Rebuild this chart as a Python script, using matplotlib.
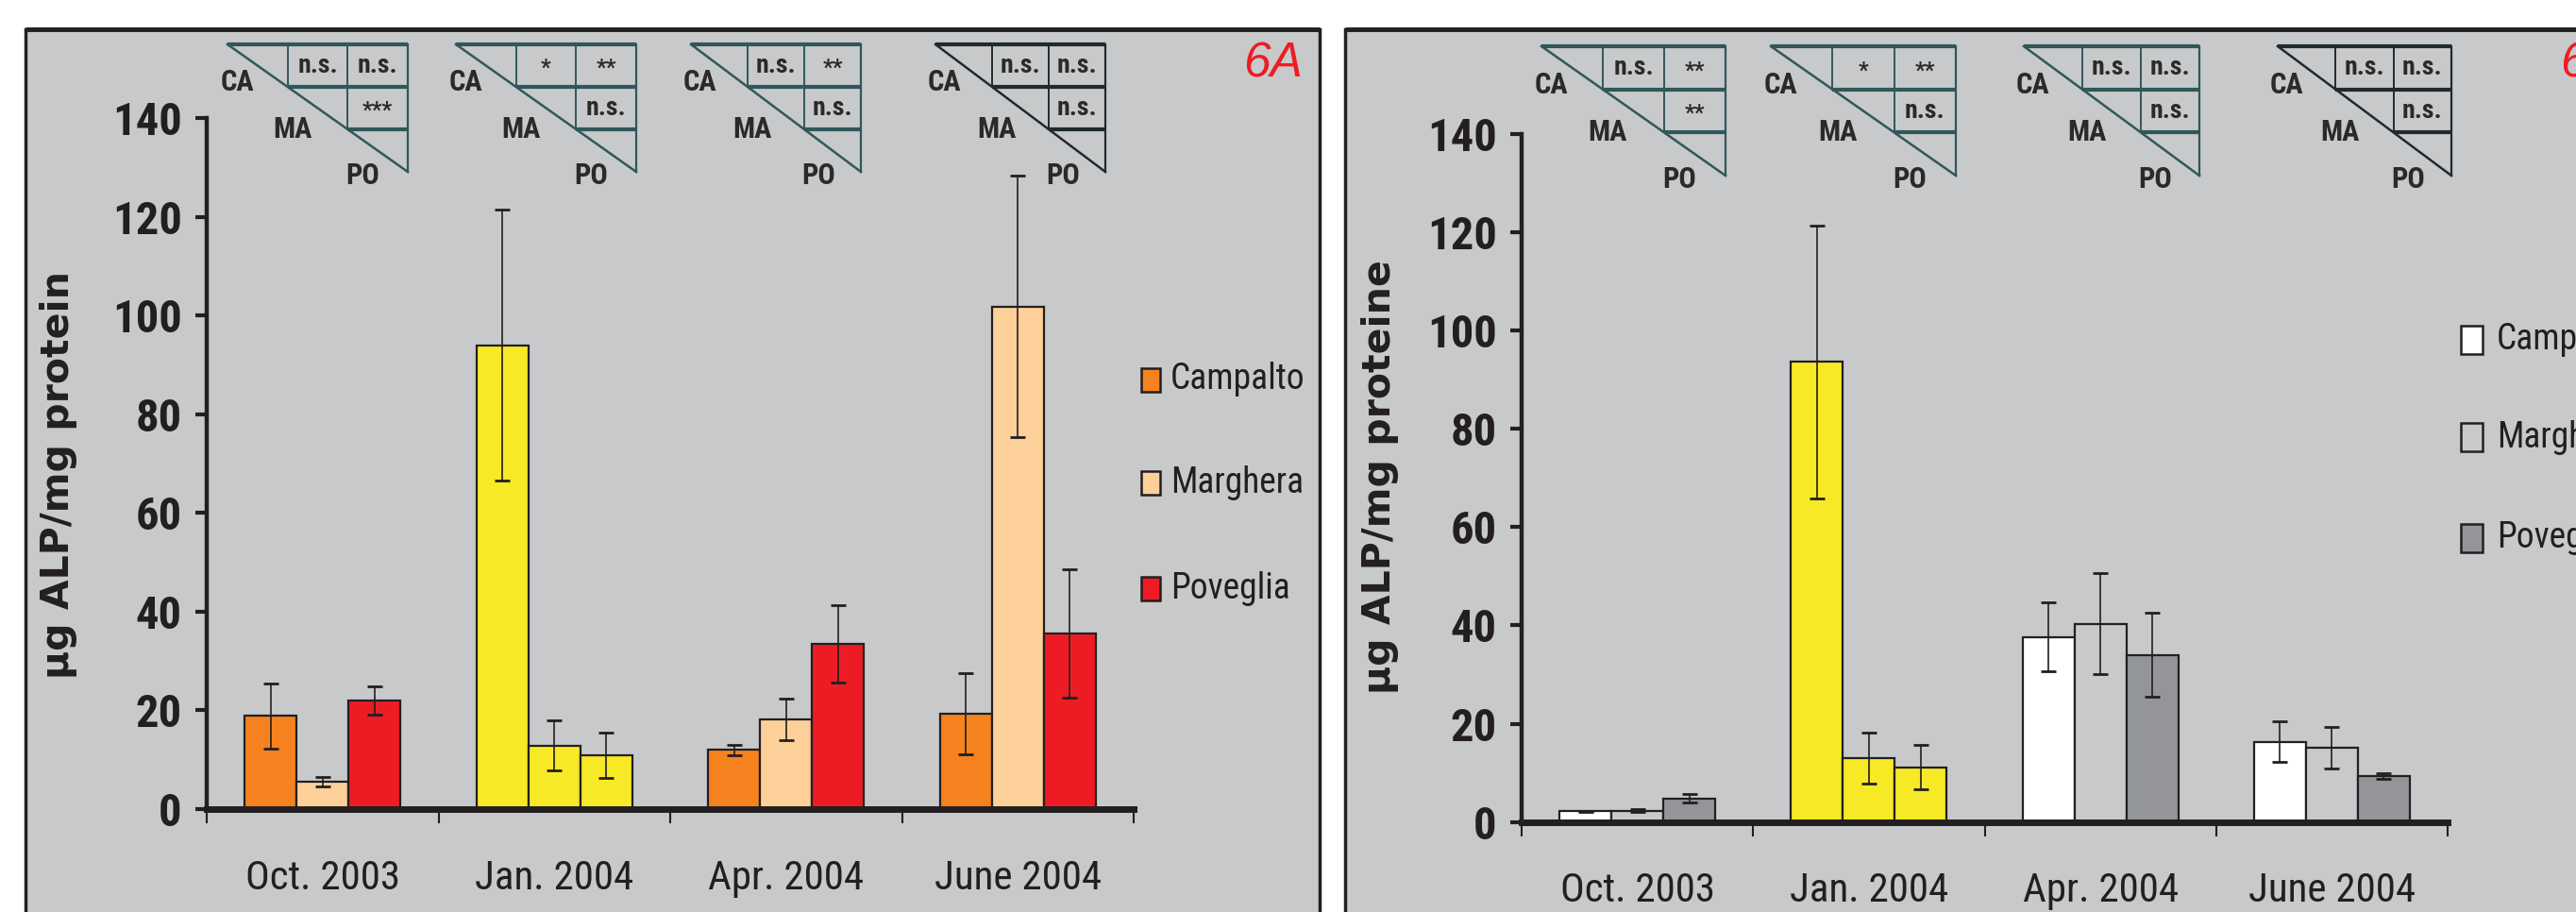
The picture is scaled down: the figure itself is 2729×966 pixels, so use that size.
import matplotlib
matplotlib.use("Agg")
import matplotlib.pyplot as plt
from matplotlib import font_manager as fm
from matplotlib.patches import Rectangle
import numpy as np

# pick a narrow sans if one is installed
fonts = fm.fontManager.ttflist
names = {f.name for f in fonts}
NARROW = None
for cand in ["Liberation Sans Narrow", "Arial Narrow", "Roboto Condensed",
             "Noto Sans Condensed", "Open Sans Condensed", "DejaVu Sans Condensed"]:
    if cand in names:
        NARROW = cand
        break
if NARROW is None:
    for fam in ["DejaVu Sans", "Noto Sans", "Open Sans", "Roboto"]:
        if any(f.name == fam and f.stretch == "condensed" for f in fonts):
            NARROW = fam
            break
if NARROW is None:
    NARROW = "Liberation Sans"
plt.rcParams['font.family'] = [NARROW, 'DejaVu Sans']
plt.rcParams['font.stretch'] = 'condensed'

# ---- data ----
months = ["Oct. 2003", "Jan. 2004", "Apr. 2004", "June 2004"]
sites = ["Campalto", "Marghera", "Poveglia"]
site_codes = ["CA", "MA", "PO"]

# panel 6A (ug ALP / mg protein), one list per site over the months
a_campalto = [18.9, 94.0, 12.0, 19.3]
a_marghera = [5.5, 12.9, 18.2, 101.8]
a_poveglia = [22.0, 10.9, 33.5, 35.5]
a_err_campalto = [6.6, 27.5, 1.1, 8.3]
a_err_marghera = [1.0, 5.1, 4.2, 26.5]
a_err_poveglia = [2.8, 4.6, 7.8, 13.0]

# panel 6B (ug ALP / mg proteine)
b_campalto = [2.2, 93.6, 37.6, 16.3]
b_marghera = [2.3, 13.0, 40.3, 15.1]
b_poveglia = [4.8, 11.1, 34.0, 9.3]
b_err_campalto = [0.1, 27.7, 7.0, 4.1]
b_err_marghera = [0.3, 5.2, 10.3, 4.2]
b_err_poveglia = [0.8, 4.5, 8.6, 0.6]

# significance tables: CA-MA, CA-PO, MA-PO
a_signif = [["n.s.", "n.s.", "***"], ["*", "**", "n.s."],
            ["n.s.", "**", "n.s."], ["n.s.", "n.s.", "n.s."]]
b_signif = [["n.s.", "**", "**"], ["*", "**", "n.s."],
            ["n.s.", "n.s.", "n.s."], ["n.s.", "n.s.", "n.s."]]

yticks = [0, 20, 40, 60, 80, 100, 120, 140]

# ---- styles ----
ORANGE, PEACH, RED = "#f5821f", "#fdd09a", "#ed1c24"
YELLOW, WHITE, GRAY, BG = "#f7e925", "#ffffff", "#939598", "#c8c9cb"
INK = "#231f20"
TEAL = "#30575a"

a_colors = [[ORANGE, YELLOW, ORANGE, ORANGE],
            [PEACH, YELLOW, PEACH, PEACH],
            [RED, YELLOW, RED, RED]]
b_colors = [[WHITE, YELLOW, WHITE, WHITE],
            [BG, YELLOW, BG, BG],
            [GRAY, YELLOW, GRAY, GRAY]]

W, H = 2729, 966
fig = plt.figure(figsize=(W / 100, H / 100), dpi=100)
fig.patch.set_facecolor("white")

ov = fig.add_axes([0, 0, 1, 1], zorder=0)
ov.set_xlim(0, W)
ov.set_ylim(H, 0)
ov.axis("off")

# panel frames
for left, right in [(27, 1398), (1425, 2800)]:
    ov.add_patch(Rectangle((left, 31), right - left, 1000, facecolor=BG,
                           edgecolor=INK, lw=2.5))
    ov.plot([left, right], [31, 31], color=INK, lw=3.5, solid_capstyle="butt")


def draw_panel(px_left, px_right, px_zero, px_top, values, errors, colors, ylabel, label_xy):
    ax = fig.add_axes([px_left / W, 1 - px_zero / H,
                       (px_right - px_left) / W, (px_zero - px_top) / H], zorder=2)
    ax.set_facecolor("none")
    x = np.arange(len(months))
    bw = 0.224
    for i in range(3):
        ax.bar(x + (i - 1) * bw, values[i], bw, color=colors[i],
               edgecolor=INK, linewidth=1.6, zorder=2)
        ax.errorbar(x + (i - 1) * bw, values[i], yerr=errors[i], fmt="none",
                    ecolor=INK, elinewidth=1.2, capsize=5.5, capthick=2, zorder=3)
    ax.set_xlim(-0.5, 3.5)
    ax.set_ylim(0, 140)
    ax.set_yticks(yticks)
    ax.set_yticklabels([str(t) for t in yticks], fontsize=35, fontweight="bold", color=INK)
    ax.set_xticks(x)
    ax.set_xticklabels(months, fontsize=31, color=INK)
    ax.set_xticks(np.arange(-0.5, 4.0, 1.0), minor=True)
    ax.tick_params(axis="x", which="major", length=0, pad=38)
    ax.tick_params(axis="x", which="minor", length=11, width=1.5, color=INK, direction="out")
    ax.tick_params(axis="y", length=9, width=3, color=INK, direction="out", pad=10)
    for s in ["top", "right"]:
        ax.spines[s].set_visible(False)
    ax.spines["left"].set_linewidth(3.2)
    ax.spines["left"].set_color(INK)
    ax.spines["bottom"].set_linewidth(5)
    ax.spines["bottom"].set_color(INK)
    ax.set_ylabel(ylabel, family="DejaVu Sans", fontweight="bold", fontsize=29.5,
                  stretch="normal", color=INK, va="center")
    ax.yaxis.set_label_coords(*label_xy)
    return ax


draw_panel(219, 1201, 857, 125,
           [a_campalto, a_marghera, a_poveglia],
           [a_err_campalto, a_err_marghera, a_err_poveglia],
           a_colors, "µg ALP/mg protein", (-0.16, 0.484))
draw_panel(1612, 2593, 870.6, 142,
           [b_campalto, b_marghera, b_poveglia],
           [b_err_campalto, b_err_marghera, b_err_poveglia],
           b_colors, "µg ALP/mg proteine", (-0.153, 0.502))


def sig_table(x0, y0, w, h, texts, col):
    cw, rh = w / 3, h / 3
    ov.plot([x0, x0 + w], [y0, y0], color=col, lw=3, solid_capstyle="butt")
    ov.plot([x0, x0 + w], [y0, y0 + h], color=col, lw=1.8)
    ov.plot([x0 + cw, x0 + w], [y0 + rh, y0 + rh], color=col, lw=3, solid_capstyle="butt")
    ov.plot([x0 + 2 * cw, x0 + w], [y0 + 2 * rh, y0 + 2 * rh], color=col, lw=3,
            solid_capstyle="butt")
    ov.plot([x0 + cw, x0 + cw], [y0, y0 + rh], color=col, lw=1.4)
    ov.plot([x0 + 2 * cw, x0 + 2 * cw], [y0, y0 + 2 * rh], color=col, lw=1.4)
    ov.plot([x0 + w, x0 + w], [y0, y0 + h], color=col, lw=1.6)
    for (dx, dy), code in zip([(0.16, 0.9), (1.08, 2.0), (2.25, 3.08)], site_codes):
        ov.text(x0 + dx * cw, y0 + dy * rh, code, fontsize=22, fontweight="bold",
                color="#2a2a2a", ha="center", va="center")
    cells = [(1.5, 0.5), (2.5, 0.5), (2.5, 1.5)]
    for (cx, cy), t in zip(cells, texts):
        ov.text(x0 + cx * cw, y0 + cy * rh + (3 if "*" in t else 0), t,
                fontsize=20 if "*" not in t else 17, fontweight="bold",
                color="#2a2a2a", ha="center", va="center")


a_table_left = [241, 483, 732, 991]
a_table_w = [191, 191, 180, 180]
b_table_left = [1633, 1876, 2144, 2413]
b_table_w = [195, 196, 186, 184]
for k in range(4):
    col = "#1f2b2b" if k == 3 else TEAL
    sig_table(a_table_left[k], 47, a_table_w[k], 135, a_signif[k], col)
    sig_table(b_table_left[k], 49, b_table_w[k], 137, b_signif[k], col)

# legends
a_leg_colors = [ORANGE, PEACH, RED]
b_leg_colors = [WHITE, BG, GRAY]
for i, name in enumerate(sites):
    yc = [402, 511, 623][i]
    ov.add_patch(Rectangle((1209, yc - 12.5), 20, 25, facecolor=a_leg_colors[i],
                           edgecolor=INK, lw=1.8))
    ov.text(1240, yc, name, fontsize=27, color=INK, ha="left", va="center")
    yc = [360, 463, 570][i]
    ov.add_patch(Rectangle((2607, yc - 15), 23, 30, facecolor=b_leg_colors[i],
                           edgecolor=INK, lw=1.8))
    ov.text(2645, yc, name, fontsize=27, color=INK, ha="left", va="center")

# panel labels
ov.text(1349, 68, "6A", fontsize=37, color=RED, style="italic", stretch="normal",
        family=["Liberation Sans", "DejaVu Sans"], ha="center", va="center")
ov.text(2712, 68, "6B", fontsize=37, color=RED, style="italic", stretch="normal",
        family=["Liberation Sans", "DejaVu Sans"], ha="left", va="center")

fig.savefig("out.png", dpi=100)
